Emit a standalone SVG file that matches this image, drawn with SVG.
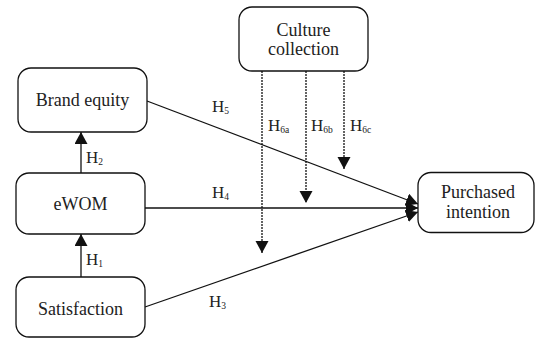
<svg xmlns="http://www.w3.org/2000/svg" width="535" height="339" viewBox="0 0 535 339">
<style>
.box{fill:#fff;stroke:#111;stroke-width:1.3}
.lbl{font-family:"Liberation Serif","Times New Roman",serif;font-size:18px;fill:#222;text-anchor:middle}
.h{font-family:"Liberation Serif","Times New Roman",serif;font-size:17px;fill:#222}
.sub{font-size:9.5px}
.ln{stroke:#111;stroke-width:1.3;fill:none}
.dash{stroke:#111;stroke-width:1.3;fill:none;stroke-dasharray:2,1}
</style>
<defs>
<marker id="ah" markerUnits="userSpaceOnUse" markerWidth="14" markerHeight="14" refX="12" refY="6.5" orient="auto">
<path d="M0,0 L12,6.5 L0,13 z" fill="#111"/>
</marker>
</defs>
<rect width="535" height="339" fill="#fff"/>
<g id="connectors">
<line class="ln" x1="81" y1="277" x2="81" y2="234" marker-end="url(#ah)"/>
<line class="ln" x1="81" y1="173" x2="81" y2="132" marker-end="url(#ah)"/>
<line class="ln" x1="147" y1="101" x2="418" y2="204" marker-end="url(#ah)"/>
<line class="ln" x1="145" y1="208" x2="418" y2="208" stroke="#444" marker-end="url(#ah)"/>
<line class="ln" x1="145" y1="307" x2="418" y2="212" marker-end="url(#ah)"/>
<line class="dash" x1="262" y1="71" x2="262" y2="253" marker-end="url(#ah)"/>
<line class="dash" x1="306" y1="71" x2="306" y2="203" marker-end="url(#ah)"/>
<line class="dash" x1="344" y1="71" x2="344" y2="169" marker-end="url(#ah)"/>
<text class="h" x="86" y="163">H<tspan class="sub" dy="2">2</tspan></text>
<text class="h" x="86" y="265">H<tspan class="sub" dy="2">1</tspan></text>
<text class="h" x="212" y="112">H<tspan class="sub" dy="2">5</tspan></text>
<text class="h" x="212" y="198">H<tspan class="sub" dy="2">4</tspan></text>
<text class="h" x="209" y="307">H<tspan class="sub" dy="2">3</tspan></text>
<text class="h" x="268" y="131">H<tspan class="sub" dy="2">6a</tspan></text>
<text class="h" x="311" y="131">H<tspan class="sub" dy="2">6b</tspan></text>
<text class="h" x="350" y="131">H<tspan class="sub" dy="2">6c</tspan></text>
</g>
<g id="culture">
<rect class="box" x="239" y="7" width="129" height="64" rx="13"/>
<text class="lbl" x="303.5" y="36">Culture</text>
<text class="lbl" x="303.5" y="55">collection</text>
</g>
<g id="brand">
<rect class="box" x="18" y="68" width="129" height="64" rx="13"/>
<text class="lbl" x="82.5" y="106">Brand equity</text>
</g>
<g id="ewom">
<rect class="box" x="16" y="173" width="129" height="61" rx="13"/>
<text class="lbl" x="80.5" y="210">eWOM</text>
</g>
<g id="satisfaction">
<rect class="box" x="16" y="277" width="129" height="60" rx="13"/>
<text class="lbl" x="80.5" y="315">Satisfaction</text>
</g>
<g id="purchased">
<rect class="box" x="418" y="172.5" width="116" height="60" rx="13"/>
<text class="lbl" x="478" y="198">Purchased</text>
<text class="lbl" x="478" y="218">intention</text>
</g>
</svg>
